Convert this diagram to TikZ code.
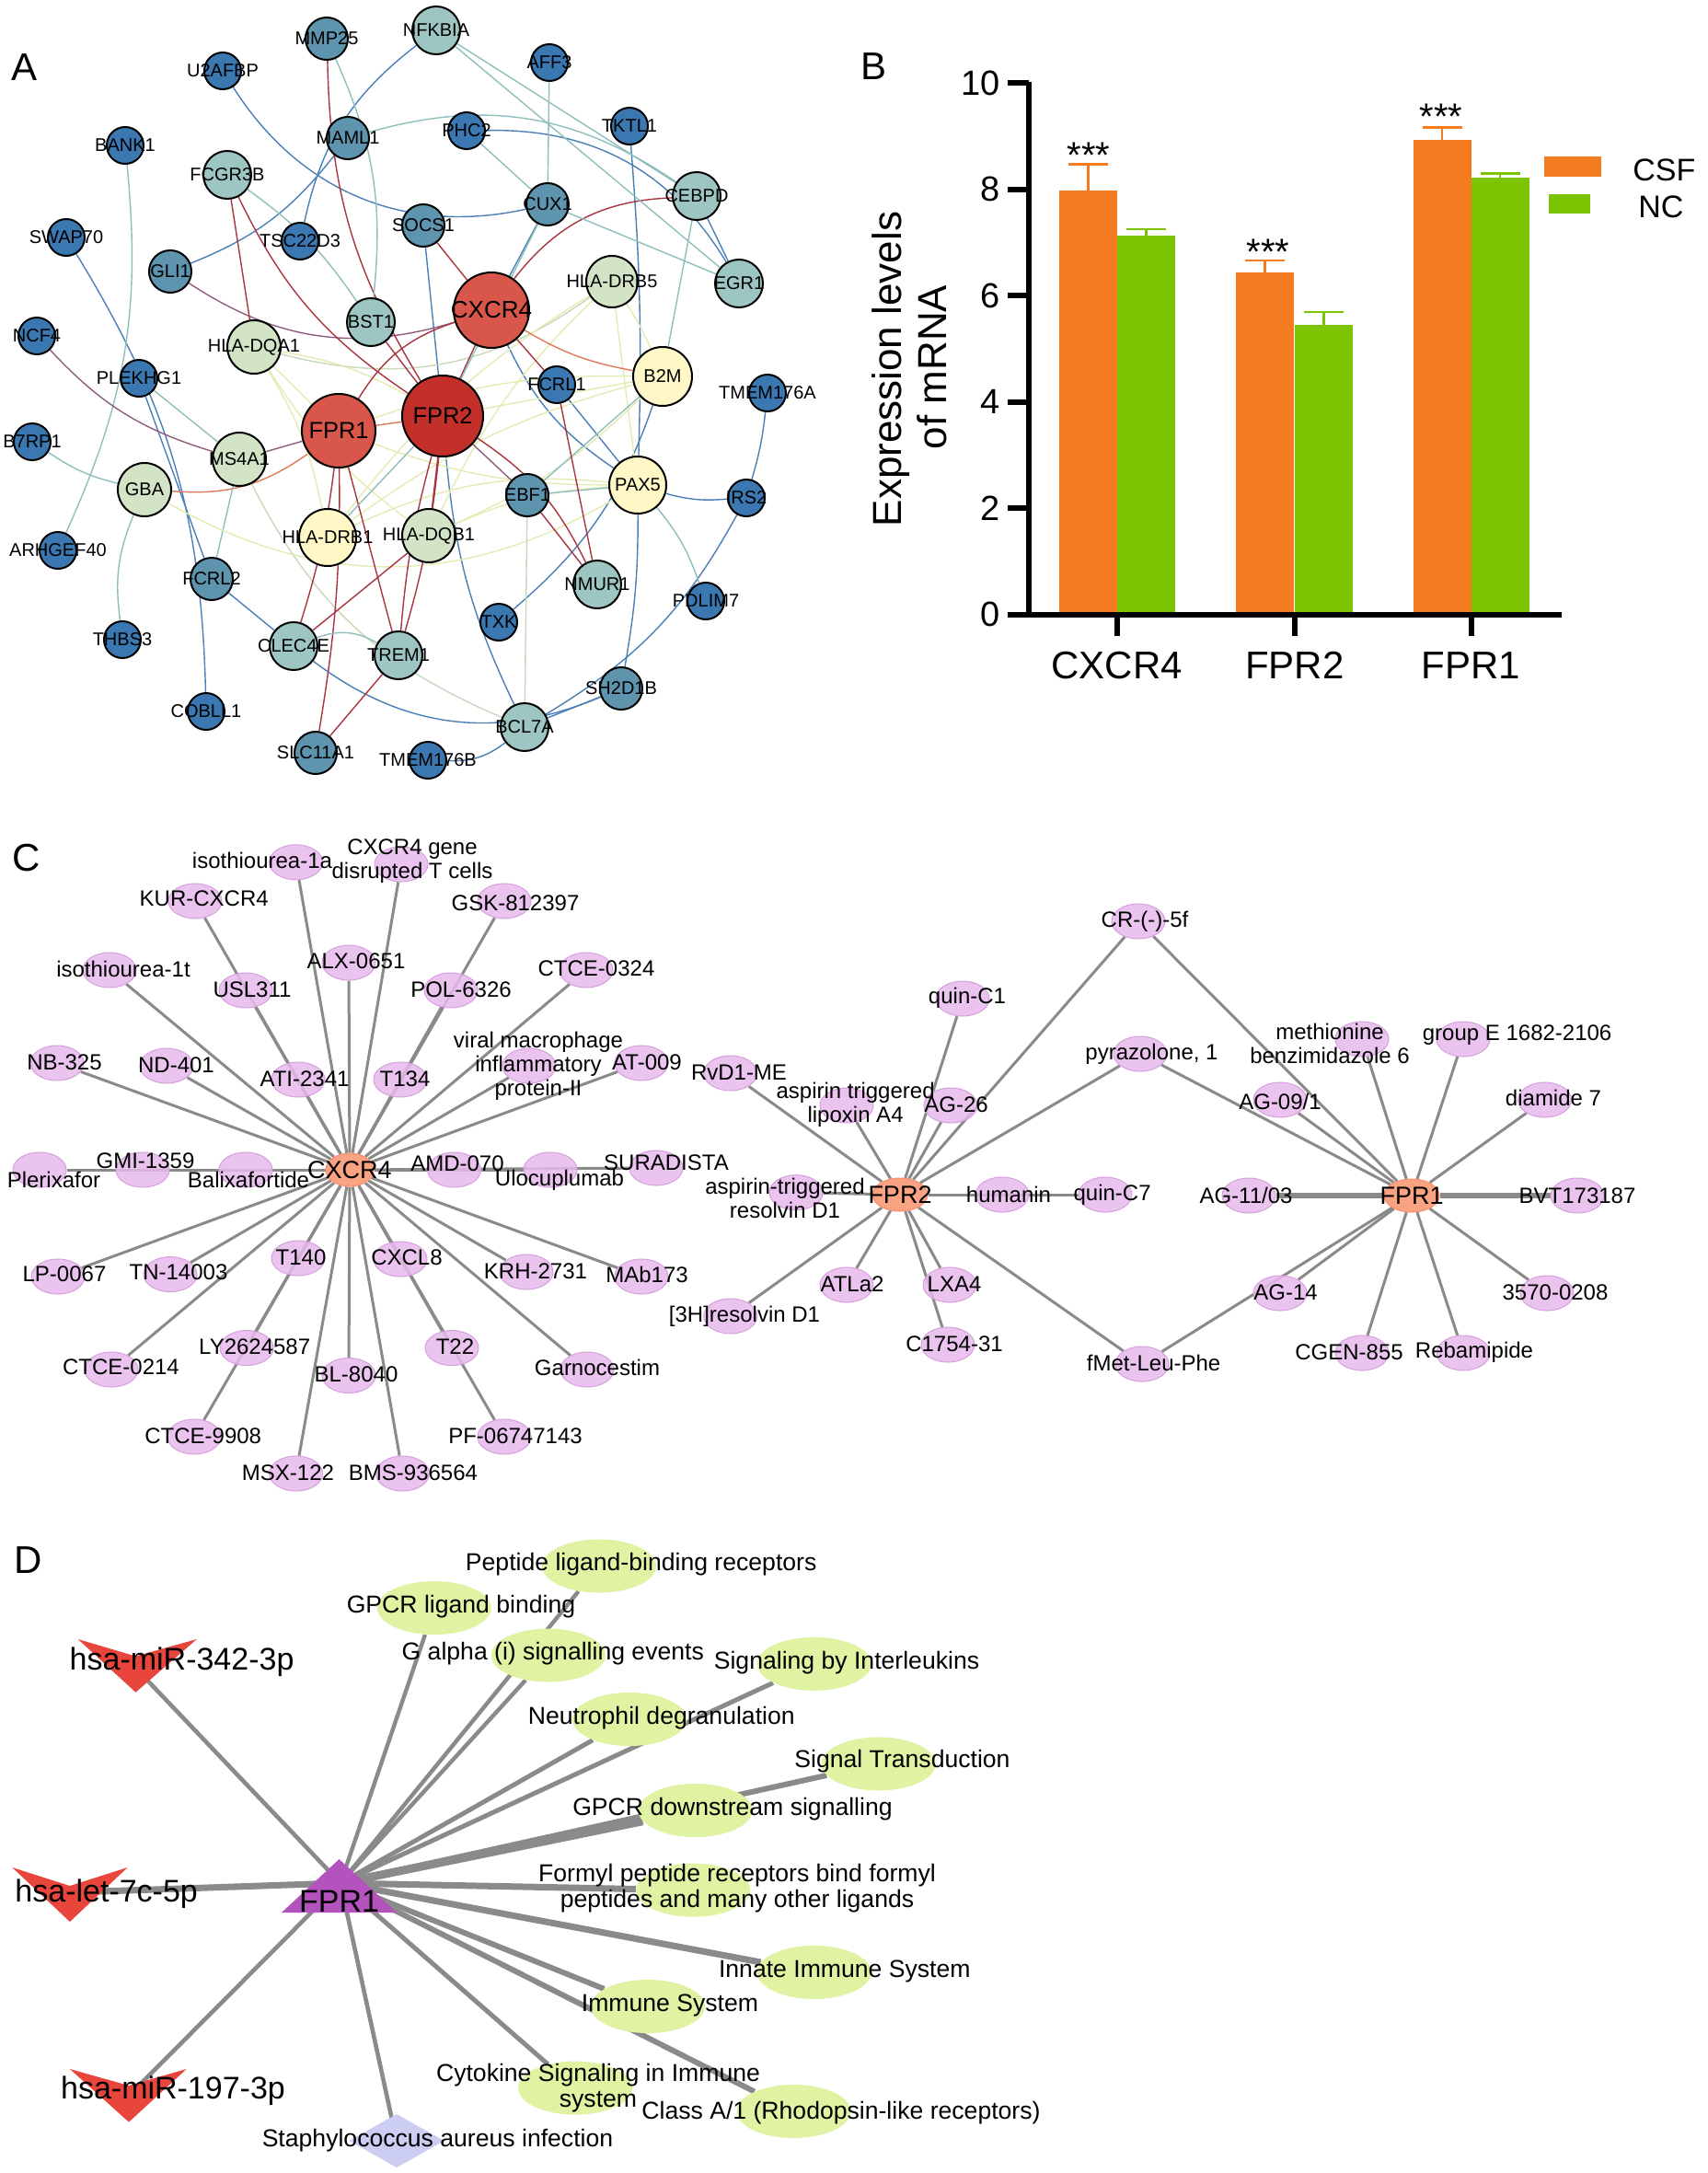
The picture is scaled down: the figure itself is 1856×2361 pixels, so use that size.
\documentclass[tikz,border=0pt]{standalone}
\usepackage{fontspec}
\setmainfont{Liberation Sans}
\usetikzlibrary{shapes.geometric}
\pgfdeclarelayer{bg}
\pgfdeclarelayer{fg}
\pgfsetlayers{bg,main,fg}
\definecolor{dkblue}{HTML}{3B78B2}
\definecolor{mdblue}{HTML}{5E94AE}
\definecolor{ltteal}{HTML}{9DC5C1}
\definecolor{pgreen}{HTML}{D3E3C5}
\definecolor{pyellow}{HTML}{FFF8C6}
\definecolor{nred}{HTML}{D9574A}
\definecolor{dred}{HTML}{C3302A}
\definecolor{eblue}{HTML}{4A80B8}
\definecolor{eteal}{HTML}{8FBFBC}
\definecolor{ered}{HTML}{A8353F}
\definecolor{eyel}{HTML}{E6EBB4}
\definecolor{egrn}{HTML}{C6D9BA}
\definecolor{emau}{HTML}{8E5D7E}
\definecolor{eora}{HTML}{E07A5A}
\definecolor{csf}{HTML}{F47B20}
\definecolor{nc}{HTML}{7CC400}
\definecolor{drugfill}{HTML}{E7B9EC}
\definecolor{drugline}{HTML}{D6A0DE}
\definecolor{hubfill}{HTML}{F9A383}
\definecolor{edgegray}{HTML}{8A8A8A}
\definecolor{pathfill}{HTML}{DFF3A2}
\definecolor{mired}{HTML}{E8453C}
\definecolor{fprtri}{HTML}{B452BE}
\definecolor{staphc}{HTML}{CBCDF3}
\newcommand{\fsz}[1]{\fontsize{#1}{#1}\selectfont}
\newcommand{\midtext}[1]{\makebox[0pt]{#1}}

\begin{document}
\begin{tikzpicture}[x=0.5pt, y=-0.5pt,
  letter/.style={anchor=base west, inner sep=0pt, font=\fsz{21}},
  gnode/.style={circle, draw=black, line width=1pt, inner sep=0pt, font=\fsz{10}},
  ea/.style={line width=0.7pt},
  ticklab/.style={anchor=east, inner sep=0pt, font=\fsz{19}},
  cat/.style={anchor=base, inner sep=0pt, font=\fsz{21}},
  stars/.style={anchor=base, inner sep=0pt, font=\fsz{20}},
  legtext/.style={anchor=base west, inner sep=0pt, font=\fsz{17}},
  ytitle/.style={anchor=base, rotate=90, inner sep=0pt, font=\fsz{22}},
  axisline/.style={line width=3pt},
  hubC/.style={ellipse, fill=hubfill, draw=hubfill!85!red, line width=0.5pt, minimum width=26pt, minimum height=18pt, inner sep=0pt, font=\fsz{13.5}},
  drug/.style={ellipse, fill=drugfill, draw=drugline, line width=0.5pt, fill opacity=0.85, minimum width=29pt, minimum height=19pt, inner sep=0pt},
  dlab/.style={inner sep=0pt, align=center, font=\fontsize{12}{13}\selectfont},
  ledge/.style={draw=edgegray, line width=1.5pt},
  pathw/.style={ellipse, fill=pathfill, minimum width=62pt, minimum height=29pt, inner sep=0pt},
  plab/.style={inner sep=0pt, align=center, font=\fontsize{13.3}{14}\selectfont},
  mlab/.style={inner sep=0pt, font=\fsz{17}}]
\useasboundingbox (0,0) rectangle (1856,2361);
\begin{pgfonlayer}{bg}
\fill[white] (0,0) rectangle (1856,2361);
\end{pgfonlayer}

% A: network
\node[letter] (lA) at (12,87) {A};
\foreach \nm/\x/\y/\cl/\rad/\txt in {
  u2afbp/242/77/dkblue/20/U2AFBP, aff3/597/68/dkblue/20/AFF3, bank1/136/158/dkblue/20/BANK1,
  phc2/507/142/dkblue/20/PHC2, tktl1/684/137/dkblue/20/TKTL1, swap70/72/258/dkblue/20/SWAP70,
  tsc/326/262/dkblue/20/TSC22D3, ncf4/40/365/dkblue/20/NCF4, plekhg1/151/411/dkblue/20/PLEKHG1,
  fcrl1/605/418/dkblue/20/FCRL1, tmem176a/834/427/dkblue/20/TMEM176A, b7rp1/35/480/dkblue/20/B7RP1,
  irs2/811/541/dkblue/20/IRS2, arhgef40/63/598/dkblue/20/ARHGEF40, pdlim7/767/653/dkblue/20/PDLIM7,
  txk/542/676/dkblue/20/TXK, thbs3/133/695/dkblue/20/THBS3, cobll1/224/773/dkblue/20/COBLL1,
  tmem176b/465/826/dkblue/20/TMEM176B,
  mmp25/355/42/mdblue/23/MMP25, maml1/378/150/mdblue/23/MAML1, cux1/595/222/mdblue/23/CUX1,
  socs1/460/245/mdblue/23/SOCS1, gli1/185/295/mdblue/23/GLI1, ebf1/573/538/mdblue/23/EBF1,
  fcrl2/230/629/mdblue/23/FCRL2, sh2d1b/675/748/mdblue/23/SH2D1B, slc11a1/343/818/mdblue/23/SLC11A1,
  nfkbia/474/33/ltteal/26/NFKBIA, fcgr3b/247/190/ltteal/26/FCGR3B, cebpd/757/213/ltteal/26/CEBPD,
  egr1/803/308/ltteal/26/EGR1, bst1/403/350/ltteal/26/BST1, nmur1/649/635/ltteal/26/NMUR1,
  clec4e/319/702/ltteal/26/CLEC4E, trem1/433/712/ltteal/26/TREM1, bcl7a/570/790/ltteal/26/BCL7A,
  hladrb5/665/306/pgreen/28/HLA-DRB5, hladqa1/276/377/pgreen/29/HLA-DQA1, ms4a1/260/499/pgreen/29/MS4A1,
  gba/157/532/pgreen/29/GBA, hladqb1/466/582/pgreen/29/HLA-DQB1,
  b2m/720/409/pyellow/32/B2M, pax5/693/527/pyellow/31/PAX5, hladrb1/356/584/pyellow/31/HLA-DRB1}
  \node[gnode, fill=\cl, minimum size=\rad pt] (\nm) at (\x,\y) {\midtext{\txt}};
\node[gnode, fill=nred, minimum size=41pt, font=\fsz{13}] (cxcr4) at (534,337) {\midtext{CXCR4}};
\node[gnode, fill=nred, minimum size=40pt, font=\fsz{12.7}] (fpr1) at (368,468) {\midtext{FPR1}};
\node[gnode, fill=dred, minimum size=44pt, font=\fsz{12.7}] (fpr2) at (481,452) {\midtext{FPR2}};
\begin{pgfonlayer}{bg}
\foreach \na/\nb/\cl/\bd in {
  u2afbp/cux1/eblue/-35, nfkbia/tsc/eblue/-20, maml1/gli1/eblue/15, phc2/egr1/eblue/30,
  maml1/cebpd/eteal/25, tktl1/pax5/eblue/3, socs1/fpr2/eblue/0, cux1/cxcr4/eblue/0,
  cxcr4/pax5/eblue/-15, fcrl1/pax5/eblue/0, txk/b2m/eblue/-15, pax5/irs2/eblue/-10,
  tmem176a/irs2/eblue/5, irs2/bcl7a/eblue/15, pax5/sh2d1b/eblue/5, clec4e/sh2d1b/eblue/-30,
  bcl7a/sh2d1b/eblue/0, bcl7a/tmem176b/eblue/20, fpr2/bcl7a/eblue/-10, fcrl2/clec4e/eblue/0,
  swap70/cobll1/eblue/15, bank1/arhgef40/eteal/15, plekhg1/ms4a1/eteal/0, plekhg1/fcrl2/eblue/0,
  ncf4/ms4a1/emau/-15, b7rp1/gba/eteal/-10, gba/thbs3/eteal/-15, gba/fpr1/eora/-20,
  ms4a1/fpr1/emau/0, ms4a1/bcl7a/egrn/-20, ms4a1/fcrl2/eteal/0, gba/pax5/eyel/-30,
  hladqa1/hladrb5/egrn/-25, hladrb5/pax5/eyel/0, hladrb5/hladqb1/eyel/-10, hladrb5/b2m/eyel/5,
  hladrb5/hladrb1/eyel/-10, hladqa1/fpr2/eyel/10, hladqa1/hladrb1/eyel/10, hladqa1/hladqb1/eyel/-10,
  b2m/hladqb1/eyel/10, b2m/hladrb1/eyel/-10, b2m/fpr2/eyel/0, fpr1/b2m/eyel/10,
  pax5/hladqb1/eyel/-10, pax5/fpr1/eyel/10, pax5/hladrb1/eyel/-15, pax5/ebf1/eteal/0,
  ebf1/fpr2/emau/0, ebf1/b2m/eteal/0, ebf1/nmur1/ered/0, fpr2/nmur1/ered/15,
  fcrl1/nmur1/ered/0, cxcr4/fcrl1/ered/0, cxcr4/b2m/eora/-10, cxcr4/cebpd/ered/25,
  socs1/cxcr4/ered/0, gli1/cxcr4/emau/-25, fcgr3b/hladqa1/ered/0, fcgr3b/fpr2/ered/-15,
  fcgr3b/bst1/eteal/10, mmp25/fpr2/ered/-15, mmp25/bst1/eteal/15, bst1/fpr2/ered/0,
  cxcr4/fpr1/ered/-20, cxcr4/fpr2/ered/0, fpr1/fpr2/eora/0, fpr1/clec4e/ered/5,
  fpr1/trem1/ered/0, fpr1/slc11a1/ered/5, fpr2/trem1/ered/5, fpr2/trem1/ered/-5,
  fpr2/hladqb1/ered/0, hladqb1/clec4e/ered/0, trem1/slc11a1/ered/0, clec4e/trem1/eteal/25,
  hladrb1/fpr2/eteal/0, cux1/egr1/eteal/0, cux1/fpr2/eteal/0, aff3/cux1/eteal/0,
  phc2/cux1/eteal/0, nfkbia/cebpd/eteal/0, nfkbia/egr1/eteal/0, cebpd/egr1/eblue/0,
  cebpd/b2m/eteal/0, pax5/pdlim7/eteal/10, ebf1/bcl7a/egrn/0, fpr1/hladqa1/eyel/0}
  \draw[ea, draw=\cl] (\na) to[bend left=\bd] (\nb);
\end{pgfonlayer}

% B: bar chart
\node[letter] (lB) at (935,86) {B};
\foreach \l/\v/\e/\cl in {1151.2/7.98/8.47/csf, 1213.8/7.13/7.25/nc, 1343/6.43/6.66/csf,
  1406.8/5.45/5.69/nc, 1535.5/8.92/9.16/csf, 1598.6/8.21/8.29/nc} {
  \fill[fill=\cl] (\l,667.5) rectangle ({\l+63},{667.5-57.75*\v});
  \draw[draw=\cl, line width=1.3pt] ({\l+31.5},{667.5-57.75*\v}) -- ({\l+31.5},{667.5-57.75*\e})
    ({\l+10},{667.5-57.75*\e}) -- ({\l+53},{667.5-57.75*\e});
}
\draw[axisline] (1117.5,88.5) -- (1117.5,667.5) -- (1697,667.5);
\foreach \v in {0,2,...,10} {
  \draw[axisline] (1095,{667.5-57.75*\v}) -- (1117.5,{667.5-57.75*\v});
  \node[ticklab] (y\v) at (1087,{667.5-57.75*\v}) {\v};
}
\foreach \x/\txt in {1213.8/CXCR4, 1406.8/FPR2, 1598.6/FPR1} {
  \draw[axisline] (\x,667.5) -- (\x,691);
  \node[cat] (g\txt) at (\x,737) {\txt};
}
\node[stars] (s1) at (1183,182) {***};
\node[stars] (s2) at (1378,287) {***};
\node[stars] (s3) at (1566,140) {***};
\node[ytitle] (yt1) at (979.7,401) {Expression levels};
\node[ytitle] (yt2) at (1028.7,399) {of mRNA};
\fill[csf] (1678,170) rectangle (1740,192);
\fill[nc] (1683,211) rectangle (1728,232);
\node[legtext] (lcsf) at (1774,196) {CSF};
\node[legtext] (lnc) at (1780,236) {NC};

% C: drug networks
\node[letter] (lC) at (13,946) {C};
\foreach \nm/\ex/\ey/\lx/\ly/\txt in {
  iso1a/321.6/936.8/285/934.5/isothiourea-1a,
  cxgene/436/939/448/935.4/{CXCR4 gene\\disrupted T cells},
  kur/212/979/221.7/976.6/KUR-CXCR4, gsk/548/979/560/981/GSK-812397,
  iso1t/119/1054/134/1053/isothiourea-1t, alx/379/1046/387/1044/ALX-0651,
  usl/267/1076/274/1075/USL311, pol/490/1076/501/1075/POL-6326,
  ctce0324/637/1054/648/1052/CTCE-0324, nb/62/1155/70/1154/NB-325,
  nd/181/1158/191.5/1157/ND-401, ati/324/1173/331/1172/ATI-2341,
  t134/435/1173/440/1172/T134,
  vmip/575/1158/585/1158/{viral macrophage\\inflammatory\\protein-II},
  at009/697/1155/703/1154/AT-009, plx/43/1271/58.5/1282/Plerixafor,
  gmi/155/1271/158/1261/GMI-1359, bali/267/1271/270/1282/Balixafortide,
  amd/493.5/1271/497/1264/AMD-070, ulo/598/1271/608/1282/Ulocuplumab,
  sura/713/1269/724/1263/SURADISTA, lp/63/1387/70/1384.6/LP-0067,
  tn/185/1384.6/194/1382/TN-14003, t140/324/1367/327/1366/T140,
  cxcl8/435/1368/442/1366/CXCL8, krh/572/1382/582/1381/KRH-2731,
  mab/697/1387/703/1384.6/MAb173, ctce0214/121/1488/131.5/1485.6/CTCE-0214,
  ly/268/1464.6/276.7/1463/LY2624587, t22/491/1464.6/494.5/1463/T22,
  bl/379/1494.5/387/1493.6/BL-8040, garno/638/1488/649/1485.6/Garnocestim,
  ctce9908/211/1561/220.7/1560.5/CTCE-9908, pf/548/1561/560/1560.5/PF-06747143,
  msx/321.6/1601/313/1600/MSX-122, bms/437.5/1601/449/1600/BMS-936564,
  cr5f/1237/1001/1244/1001/CR-(-)-5f, quinc1/1046/1085/1051/1084/quin-C1,
  pyra/1239/1145/1251.5/1145/{pyrazolone, 1},
  metb/1480/1129/1445/1133.6/{methionine\\benzimidazole 6},
  grpe/1590/1129/1648.6/1125/group E 1682-2106, rvd/793.7/1166/803/1165/RvD1-ME,
  atl/920/1201/929.6/1200.5/{aspirin triggered\\lipoxin A4},
  ag26/1033/1201/1039/1200.5/AG-26, ag091/1391/1195/1391/1197/{AG-09/1},
  dia7/1678.6/1195/1688/1193/diamide 7,
  atrd/865/1295.7/853/1301.5/{aspirin-triggered\\resolvin D1},
  human/1089/1298/1096/1298/humanin, quinc7/1201/1298/1208.6/1298/quin-C7,
  ag1103/1357/1299/1354/1299/{AG-11/03}, bvt/1714/1299/1714/1299/BVT173187,
  atla2/920/1396/926/1395/ATLa2, lxa4/1032/1396/1037/1395/LXA4,
  ag14/1391/1405/1397/1404.4/AG-14, n3570/1681/1405/1690/1404.4/3570-0208,
  h3rd/793.7/1430/809/1430/{[3H]resolvin D1}, c1754/1030/1461/1037/1460/C1754-31,
  fmlp/1241/1482/1253.6/1480.5/fMet-Leu-Phe, cgen/1480/1470/1466/1469/CGEN-855,
  reba/1590/1470/1602/1469/Rebamipide} {
  \node[drug] (\nm) at (\ex,\ey) {};
  \begin{pgfonlayer}{fg}\node[dlab] (\nm-t) at (\lx,\ly) {\txt};\end{pgfonlayer}
}
\node[hubC] (cxc) at (380,1271) {\midtext{CXCR4}};
\node[hubC, minimum width=30pt] (fpr2c) at (978,1298) {\midtext{FPR2}};
\node[hubC, minimum width=30pt] (fpr1c) at (1534,1299) {\midtext{FPR1}};
\begin{pgfonlayer}{bg}
\foreach \nm in {iso1a,cxgene,kur,gsk,iso1t,alx,usl,pol,ctce0324,nb,nd,ati,t134,vmip,at009,
  plx,gmi,bali,amd,ulo,sura,lp,tn,t140,cxcl8,krh,mab,ctce0214,ly,t22,bl,garno,ctce9908,pf,msx,bms}
  \draw[ledge] (cxc) -- (\nm);
\foreach \nm in {rvd,atl,ag26,quinc1,cr5f,pyra,atrd,human,quinc7,h3rd,atla2,lxa4,c1754,fmlp}
  \draw[ledge] (fpr2c) -- (\nm);
\foreach \nm in {cr5f,pyra,ag091,metb,grpe,dia7,ag1103,bvt,ag14,fmlp,n3570,cgen,reba}
  \draw[ledge] (fpr1c) -- (\nm);
\foreach \nm in {ag1103,bvt}
  \draw[ledge, line width=2.6pt] (fpr1c) -- (\nm);
\end{pgfonlayer}

% D: FPR1 regulators and pathways
\node[letter] (lD) at (15,1709) {D};
\coordinate (fprd) at (370,2046);
\coordinate (m342) at (150,1815);
\coordinate (let7c) at (80,2056);
\coordinate (m197) at (145,2272);
\coordinate (staph) at (431,2326);
\foreach \nm/\ex/\ey/\lx/\ly/\txt/\w in {
  pep/651/1701.5/696.7/1700/Peptide ligand-binding receptors/2.2,
  gpcrl/471.8/1747/501/1746/GPCR ligand binding/2.2,
  galpha/595.7/1798.5/600.8/1797/G alpha (i) signalling events/2.2,
  il/884.6/1807.8/920/1806.4/Signaling by Interleukins/2.5,
  neut/684/1868/718.8/1866.5/Neutrophil degranulation/2.5,
  sigt/954.7/1916.4/980.5/1914/Signal Transduction/3,
  gpcrd/755.6/1967/796/1966/GPCR downstream signalling/4.5,
  formyl/753.4/2053.7/801/2052/{Formyl peptide receptors bind formyl\\peptides and many other ligands}/3.5,
  innate/884.6/2142.9/917.8/2141.5/Innate Immune System/3.5,
  immune/704/2180/728/2178.5/Immune System/3,
  cyto/625/2268.6/650/2268.6/{Cytokine Signaling in Immune\\system}/2.5,
  classa/862.5/2294/914/2296/{Class A/1 (Rhodopsin-like receptors)}/3} {
  \node[pathw] (\nm) at (\ex,\ey) {};
  \begin{pgfonlayer}{fg}\node[plab] (\nm-t) at (\lx,\ly) {\txt};\end{pgfonlayer}
  \begin{pgfonlayer}{bg}\draw[ledge, line width=\w pt] (fprd) -- (\nm);\end{pgfonlayer}
}
\begin{pgfonlayer}{bg}
\draw[ledge, line width=2.3pt] (fprd) -- (m342);
\draw[ledge, line width=3.5pt] (fprd) -- (let7c);
\draw[ledge, line width=2.3pt] (fprd) -- (m197);
\draw[ledge, line width=2.3pt] (fprd) -- (staph);
\end{pgfonlayer}
\fill[mired] (84.8,1781) -- (147.4,1799.5) -- (213.8,1781) -- (147.4,1838.7) -- cycle;
\fill[mired] (13.3,2029) -- (75.9,2049) -- (138.6,2029) -- (75.9,2088) -- cycle;
\fill[mired] (75.9,2248) -- (140,2266) -- (202.7,2248) -- (140,2305.6) -- cycle;
\fill[staphc] (379.5,2326) -- (431,2297) -- (482.5,2326) -- (431,2355) -- cycle;
\fill[fprtri] (306,2078) -- (368.6,2020) -- (431,2078) -- cycle;
\begin{pgfonlayer}{fg}
\node[mlab] (m342-t) at (197.6,1805.5) {hsa-miR-342-3p};
\node[mlab] (let7c-t) at (115.7,2058) {hsa-let-7c-5p};
\node[mlab] (m197-t) at (188,2272) {hsa-miR-197-3p};
\node[plab] (staph-t) at (475.5,2325.5) {Staphylococcus aureus infection};
\node[mlab, anchor=base] (fprd-t) at (368.6,2077) {FPR1};
\end{pgfonlayer}
\end{tikzpicture}
\end{document}
